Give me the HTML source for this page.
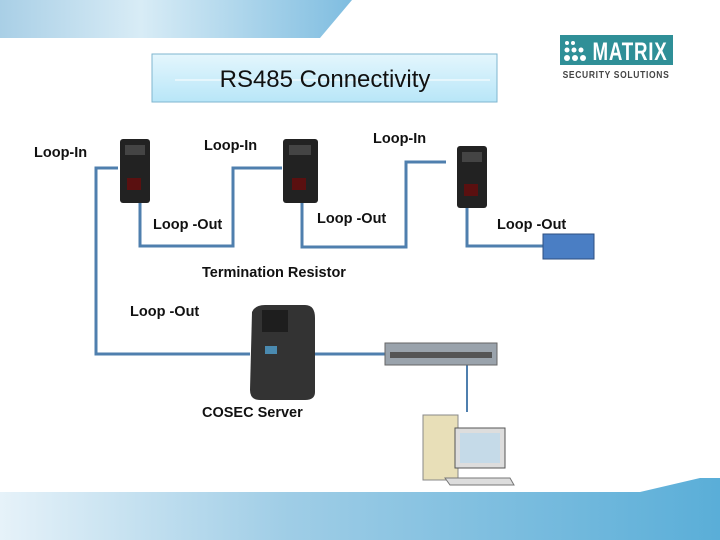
<!DOCTYPE html>
<html><head><meta charset="utf-8"><style>
body{margin:0;width:720px;height:540px;overflow:hidden;background:#fff}
svg{display:block}
text{font-family:"Liberation Sans",sans-serif}
.l{font-size:14.5px;font-weight:bold;fill:#111}
</style></head><body>
<svg width="720" height="540" viewBox="0 0 720 540">
<defs>
<linearGradient id="tb" x1="0" y1="0" x2="1" y2="0"><stop offset="0" stop-color="#a9cfe6"/><stop offset="0.4" stop-color="#d8ecf6"/><stop offset="1" stop-color="#7fbde0"/></linearGradient>
<linearGradient id="bb" x1="0" y1="0" x2="1" y2="0"><stop offset="0" stop-color="#e6f2f9"/><stop offset="0.4" stop-color="#9fcde6"/><stop offset="1" stop-color="#5aaed8"/></linearGradient>
<linearGradient id="ti" x1="0" y1="0" x2="0" y2="1"><stop offset="0" stop-color="#e4f6fd"/><stop offset="1" stop-color="#b8e6f8"/></linearGradient>
</defs>
<polygon points="0,0 352,0 320,38 0,38" fill="url(#tb)"/>
<polygon points="0,492 640,492 700,478 720,478 720,540 0,540" fill="url(#bb)"/>
<rect x="152" y="54" width="345" height="48" fill="url(#ti)" stroke="#7fb6cf"/>
<line x1="175" y1="80" x2="490" y2="80" stroke="#fff" stroke-width="1"/>
<text x="325" y="87" font-size="24" text-anchor="middle" fill="#111">RS485 Connectivity</text>
<rect x="560" y="35" width="113" height="30" fill="#2f8f97"/>
<g fill="#fff"><circle cx="567" cy="43" r="2"/><circle cx="573" cy="43" r="2"/><circle cx="567" cy="50" r="2.5"/><circle cx="574" cy="50" r="2.5"/><circle cx="581" cy="50" r="2.5"/><circle cx="567" cy="58" r="3"/><circle cx="575" cy="58" r="3"/><circle cx="583" cy="58" r="3"/></g>
<text x="630" y="60" font-size="25" font-weight="bold" text-anchor="middle" fill="#fff" transform="translate(630 0) scale(0.75 1) translate(-630 0)" letter-spacing="1">MATRIX</text>
<text x="616" y="78" font-size="10" font-weight="bold" text-anchor="middle" fill="#444" transform="translate(616 0) scale(0.85 1) translate(-616 0)" letter-spacing="0.8">SECURITY SOLUTIONS</text>
<g fill="none" stroke="#4f7fae" stroke-width="3">
<polyline points="118,168 96,168 96,354 250,354"/>
<polyline points="140,203 140,246 233,246 233,168 282,168"/>
<polyline points="302,203 302,247 406,247 406,162 446,162"/>
<polyline points="467,208 467,246 543,246"/>
<line x1="315" y1="354" x2="385" y2="354"/>
<line x1="467" y1="365" x2="467" y2="412" stroke-width="2"/>
</g>
<rect x="543" y="234" width="51" height="25" fill="#4a7ec4" stroke="#2d4f80"/>
<g>
<rect x="120" y="139" width="30" height="64" rx="3" fill="#222"/><rect x="125" y="145" width="20" height="10" fill="#444"/><rect x="127" y="178" width="14" height="12" fill="#5a1010"/>
<rect x="283" y="139" width="35" height="64" rx="3" fill="#222"/><rect x="289" y="145" width="22" height="10" fill="#444"/><rect x="292" y="178" width="14" height="12" fill="#5a1010"/>
<rect x="457" y="146" width="30" height="62" rx="3" fill="#222"/><rect x="462" y="152" width="20" height="10" fill="#444"/><rect x="464" y="184" width="14" height="12" fill="#5a1010"/>
</g>
<path d="M252,312 Q255,305 265,305 L305,305 Q315,305 315,318 L315,392 Q315,400 305,400 L260,400 Q250,400 250,390 Z" fill="#333"/>
<rect x="262" y="310" width="26" height="22" fill="#1e1e1e"/>
<rect x="265" y="346" width="12" height="8" fill="#4a8ab0"/>
<rect x="385" y="343" width="112" height="22" fill="#9aa3ac" stroke="#666"/>
<rect x="390" y="352" width="102" height="6" fill="#555"/>
<rect x="423" y="415" width="35" height="65" fill="#e8dfb8" stroke="#888"/>
<rect x="455" y="428" width="50" height="40" fill="#ddd" stroke="#555"/>
<rect x="460" y="433" width="40" height="30" fill="#c5dae8"/>
<polygon points="445,478 510,478 514,485 450,485" fill="#ddd" stroke="#777"/>
<text class="l" x="34" y="157">Loop-In</text>
<text class="l" x="204" y="150">Loop-In</text>
<text class="l" x="373" y="143">Loop-In</text>
<text class="l" x="153" y="229">Loop -Out</text>
<text class="l" x="317" y="223">Loop -Out</text>
<text class="l" x="497" y="229">Loop -Out</text>
<text class="l" x="202" y="277">Termination Resistor</text>
<text class="l" x="130" y="316">Loop -Out</text>
<text class="l" x="202" y="417">COSEC Server</text>
</svg>
</body></html>
